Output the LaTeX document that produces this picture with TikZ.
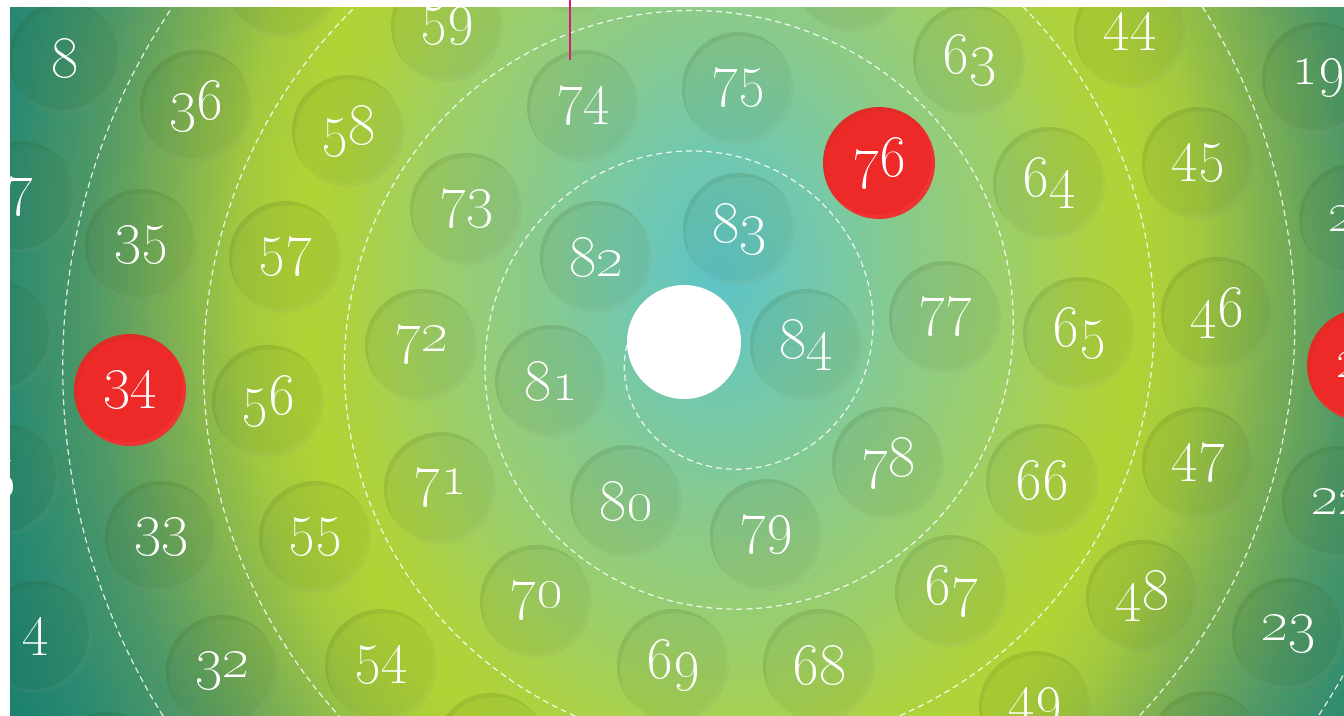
\documentclass[tikz,border=0pt]{standalone}
\usetikzlibrary{positioning}
\definecolor{glowA}{HTML}{5CC4C8}
\definecolor{glowB}{HTML}{74C8AB}
\definecolor{glowC}{HTML}{8ECB84}
\definecolor{glowD}{HTML}{9ECF66}
\definecolor{glowE}{HTML}{AED23E}
\definecolor{glowF}{HTML}{B2D335}
\definecolor{glowG}{HTML}{A2C93F}
\definecolor{glowH}{HTML}{7FB152}
\definecolor{glowI}{HTML}{4F9866}
\definecolor{glowJ}{HTML}{2B8A71}
\definecolor{glowK}{HTML}{0E786E}
\definecolor{ballred}{HTML}{EE2A29}
\definecolor{ballshade}{HTML}{2F4A10}
\definecolor{cpink}{HTML}{D81B7A}
\pgfdeclareradialshading{glow}{\pgfpointorigin}{color(0bp)=(glowA); color(3bp)=(glowB); color(6.25bp)=(glowC); color(8.75bp)=(glowD); color(11.25bp)=(glowE); color(12.5bp)=(glowF); color(14.25bp)=(glowG); color(16.25bp)=(glowH); color(18.75bp)=(glowI); color(21.25bp)=(glowJ); color(25bp)=(glowK); color(50bp)=(glowK)}
\tikzset{
  ball/.style={circle, minimum size=56pt, inner sep=0pt, fill=ballshade, fill opacity=.07, text opacity=1, text=white,
    font=\fontsize{28}{30}\selectfont,
    path picture={
      \fill[ballshade, opacity=.08, even odd rule] (path picture bounding box.center) circle (40pt)
        ([xshift=1.5pt, yshift=-2pt]path picture bounding box.center) circle (28pt);
      \fill[white, opacity=.05, even odd rule] (path picture bounding box.center) circle (40pt)
        ([xshift=-1.5pt, yshift=2pt]path picture bounding box.center) circle (28pt);
    }},
  redball/.style={ball, fill=ballred, fill opacity=1},
  spiral/.style={white, opacity=.85, line width=.6pt, dash pattern=on 3pt off 2pt},
  hubdisc/.style={circle, fill=white, minimum size=57pt, inner sep=0pt},
  needle/.style={draw=cpink, line width=1pt},
}
\begin{document}
\begin{tikzpicture}[x=0.5pt, y=-0.5pt]
  \useasboundingbox (0,0) rectangle (1344,716);
  \fill[white] (0,0) rectangle (1344,716);
  \begin{scope}
    \clip (10,8) rectangle (1344,716);
    \shade[shading=glow] (720,270) ellipse [x radius=840, y radius=1120];
    \draw[spiral] plot[domain=160:2100, samples=1200, variable=\t]
      ({714+(87+0.39167*(\t-180))*cos(\t)}, {345-(87+0.39167*(\t-180))*sin(\t)});
    \foreach \n/\x/\y in {84/806/345, 83/739/229, 82/596/257, 81/551/381, 80/626/501, 79/766/535,
      78/888/463, 77/945/317, 75/738/88, 74/583/106, 73/466/209, 72/421/345, 71/440/488,
      70/536/601, 69/673/665, 68/819/665, 67/951/591, 66/1042/480, 65/1079/333, 64/1049/183,
      63/969/60, 59/447/26, 58/348/131, 57/285/257, 56/268/401,
      55/315/537, 54/381/665, 49/1035/707, 48/1142/596, 47/1198/463, 46/1217/313,
      45/1198/163, 44/1130/32, 37/283/-19, 36/196/106, 35/141/245, 33/161/537, 32/222/671,
      23/1288/634, 22/1338/502, 20/1355/219, 19/1318/78,
      8/65/58, 7/20/197, 5/3/480, 4/36/637}
      \node[ball] (n\n) at (\x,\y) {\oldstylenums{\n}};
    \foreach \n/\x/\y in {62/851/-24, 60/575/-43, 53/491/749, 24/1205/747, 18/1260/-44, 6/-4/337, 3/107/768}
      \node[ball] (n\n) at (\x,\y) {};
    \foreach \n/\x/\y in {76/879/163, 34/130/390, 21/1363/365}
      \node[redball] (n\n) at (\x,\y) {\oldstylenums{\n}};
  \end{scope}
  \node[hubdisc] (hub) at (684,342) {};
  \coordinate (pin0) at (570,0);
  \coordinate (pin1) at (570,60);
  \draw[needle] (pin0) -- (pin1);
\end{tikzpicture}
\end{document}
